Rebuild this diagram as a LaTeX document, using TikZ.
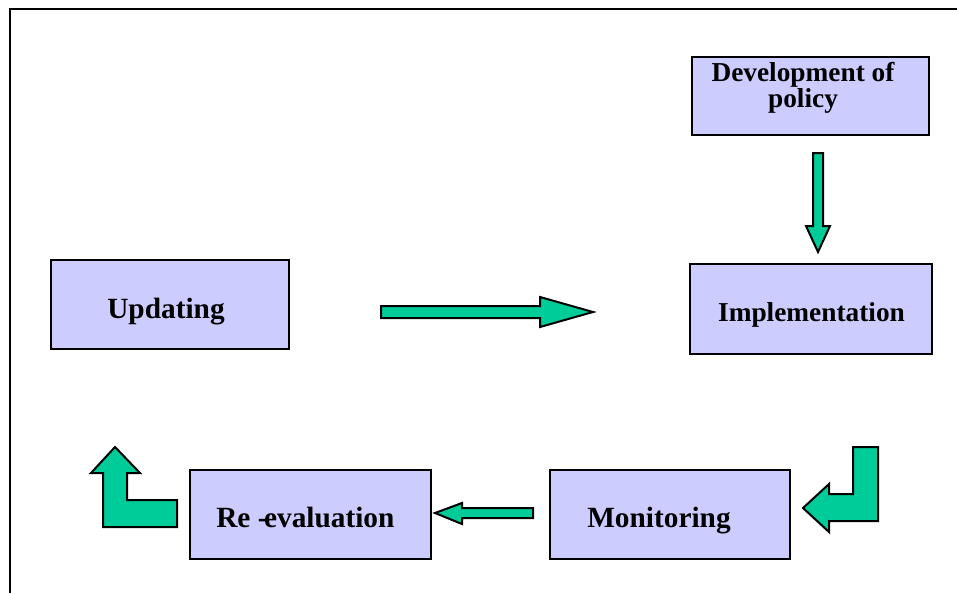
\documentclass[tikz,border=0pt]{standalone}
\usepackage{fontspec}
\setmainfont{Liberation Serif}
\definecolor{boxfill}{HTML}{CCCCFF}
\definecolor{arrowfill}{HTML}{00CC99}
\begin{document}
\begin{tikzpicture}[x=0.75pt,y=-0.75pt,
  stagebox/.style={draw=black,line width=1.5pt,fill=boxfill,inner sep=0pt,
    minimum width=180.75pt,minimum height=67pt},
  stagetext/.style={inner sep=0pt,font=\fontsize{22}{20}\selectfont\bfseries,align=center},
  blockarrow/.style={draw=black,line width=1.5pt,fill=arrowfill,line join=miter}]
\useasboundingbox (0,0) rectangle (957,593);
% open frame: top and left sides only
\draw[line width=1.6pt] (10,593) -- (10,9) -- (957,9);

% stage boxes
\node[stagebox,minimum width=178pt,minimum height=58.5pt] (dev) at (810.5,96) {};
\node[stagebox,minimum width=181.5pt] (impl) at (811,309) {};
\node[stagebox,minimum width=178.5pt] (upd) at (170,304.5) {};
\node[stagebox] (reeval) at (310.5,514.5) {};
\node[stagebox,minimum width=180pt] (mon) at (670,514.5) {};

% stage labels
\node[stagetext,font=\fontsize{20.5}{19.5}\selectfont\bfseries] (devtext) at (803,88) {Development of\\policy};
\node[stagetext,font=\fontsize{20.5}{20}\selectfont\bfseries,anchor=base] (impltext) at (811.5,321) {Implementation};
\node[stagetext,anchor=base] (updtext) at (166,318) {Updating};
\node[stagetext,anchor=base west] (reevaltext) at (216,527) {Re -\kern-0.12em evaluation};
\node[stagetext,anchor=base west] (montext) at (587,527) {Monitoring};

% block arrows between the stages
% policy -> implementation (down)
\draw[blockarrow] (813,153) -- (823,153) -- (823,226) -- (830,226) -- (818,252)
  -- (806,226) -- (813,226) -- cycle;
% updating -> implementation (right)
\draw[blockarrow] (381,306) -- (540,306) -- (540,297) -- (593,312) -- (540,327)
  -- (540,318) -- (381,318) -- cycle;
% monitoring -> re-evaluation (left)
\draw[blockarrow] (533,508) -- (462,508) -- (462,503) -- (435,513) -- (462,524)
  -- (462,518) -- (533,518) -- cycle;
% implementation -> monitoring (bent, down then left)
\draw[blockarrow] (853,447) -- (878,447) -- (878,521) -- (829,521) -- (829,532)
  -- (803,508) -- (829,484) -- (829,494) -- (853,494) -- cycle;
% re-evaluation -> updating (bent, left then up)
\draw[blockarrow] (177,500) -- (177,527) -- (103,527) -- (103,473) -- (91,473)
  -- (115,447) -- (140,473) -- (127,473) -- (127,500) -- cycle;
\end{tikzpicture}
\end{document}
